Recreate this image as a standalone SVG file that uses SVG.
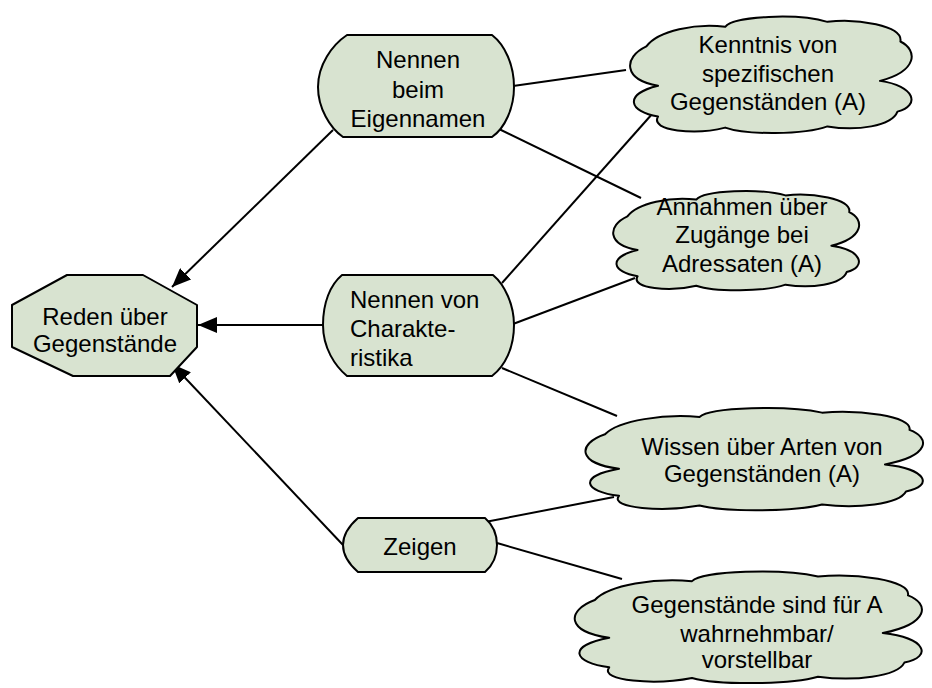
<svg xmlns="http://www.w3.org/2000/svg" xmlns:xlink="http://www.w3.org/1999/xlink" width="932" height="688" viewBox="0 0 932 688">
  <style>
    .shape { fill: #d8e3d0; stroke: #000; stroke-width: 2; stroke-linejoin: round; }
    .label { font-family: "Liberation Sans", Arial, sans-serif; font-size: 24px; fill: #000; text-anchor: middle; }
    .left { text-anchor: start; }
    .edge { stroke: #000; stroke-width: 2; fill: none; }
    .arrow { marker-end: url(#head); }
  </style>
  <defs>
    <marker id="head" markerUnits="userSpaceOnUse" markerWidth="20" markerHeight="16" refX="19" refY="8" orient="auto">
      <path d="M0,0 L19,8 L0,16 Z" fill="#000"/>
    </marker>
    <!-- cloud outline in a 100x100 box, scaled per node -->
    <path id="cloud" fill="#d8e3d0" stroke="#000" stroke-width="2" stroke-linejoin="round" vector-effect="non-scaling-stroke"
      d="M8,28 C12,15 25,9 35,12 C38,3 60,1 70,8 C80,5 96,11 95,24 C101,31 101,48 88,56 C100,60 102,76 94,81 C92,93 80,97 70,93 C62,100 42,100 35,94 C25,100 9,97 12,85 C2,81 0,67 12,60 C0,55 0,37 8,28 Z"/>
  </defs>

  <g id="connectors">
    <line class="edge arrow" x1="333" y1="130" x2="172" y2="287"/>
    <line class="edge arrow" x1="323" y1="325" x2="198" y2="325"/>
    <line class="edge arrow" x1="343" y1="545" x2="172" y2="364"/>
    <line class="edge" x1="513" y1="86" x2="626" y2="70"/>
    <line class="edge" x1="499" y1="129" x2="641" y2="198"/>
    <line class="edge" x1="502" y1="283" x2="653" y2="113"/>
    <line class="edge" x1="513" y1="324" x2="635" y2="278"/>
    <line class="edge" x1="502" y1="368" x2="617" y2="416"/>
    <line class="edge" x1="485" y1="522" x2="614" y2="497"/>
    <line class="edge" x1="497" y1="543" x2="622" y2="579"/>
  </g>

  <g id="reden">
    <polygon class="shape" points="67,275 143,275 197,305 197,347 170,376 73,376 12,347 12,305"/>
    <text class="label" x="105" y="325">Reden über</text>
    <text class="label" x="105" y="352">Gegenstände</text>
  </g>

  <g id="eigennamen">
    <path class="shape" d="M347,35 H492 C505,45 514,65 514,87 C514,108 505,128 492,137 H343 C330,128 318,108 318,87 C318,65 332,45 347,35 Z"/>
    <text class="label" x="418" y="68">Nennen</text>
    <text class="label" x="418" y="98">beim</text>
    <text class="label" x="418" y="127">Eigennamen</text>
  </g>

  <g id="charakteristika">
    <path class="shape" d="M342,275 H493 C505,285 514,305 514,325 C514,348 505,366 492,376 H347 C335,366 323,348 323,325 C323,303 330,285 342,275 Z"/>
    <text class="label left" x="350" y="308">Nennen von</text>
    <text class="label left" x="350" y="337">Charakte-</text>
    <text class="label left" x="350" y="366">ristika</text>
  </g>

  <g id="zeigen">
    <path class="shape" d="M358,518 H485 C493,525 497,535 497,545 C497,556 493,565 485,572 H358 C350,565 343,556 343,545 C343,535 350,525 358,518 Z"/>
    <text class="label" x="420" y="555">Zeigen</text>
  </g>

  <g id="kenntnis">
    <use xlink:href="#cloud" transform="translate(623,12) scale(2.92,1.23)"/>
    <text class="label" x="768" y="53">Kenntnis von</text>
    <text class="label" x="768" y="82">spezifischen</text>
    <text class="label" x="768" y="110">Gegenständen (A)</text>
  </g>

  <g id="annahmen">
    <use xlink:href="#cloud" transform="translate(607,187) scale(2.55,1.05)"/>
    <text class="label" x="742" y="215">Annahmen über</text>
    <text class="label" x="742" y="243">Zugänge bei</text>
    <text class="label" x="742" y="272">Adressaten (A)</text>
  </g>

  <g id="wissen">
    <use xlink:href="#cloud" transform="translate(577,404) scale(3.5,1.08)"/>
    <text class="label" x="762" y="455">Wissen über Arten von</text>
    <text class="label" x="762" y="482">Gegenständen (A)</text>
  </g>

  <g id="wahrnehmbar">
    <use xlink:href="#cloud" transform="translate(566,567) scale(3.6,1.18)"/>
    <text class="label" x="757" y="613">Gegenstände sind für A</text>
    <text class="label" x="757" y="642">wahrnehmbar/</text>
    <text class="label" x="757" y="668">vorstellbar</text>
  </g>
</svg>
